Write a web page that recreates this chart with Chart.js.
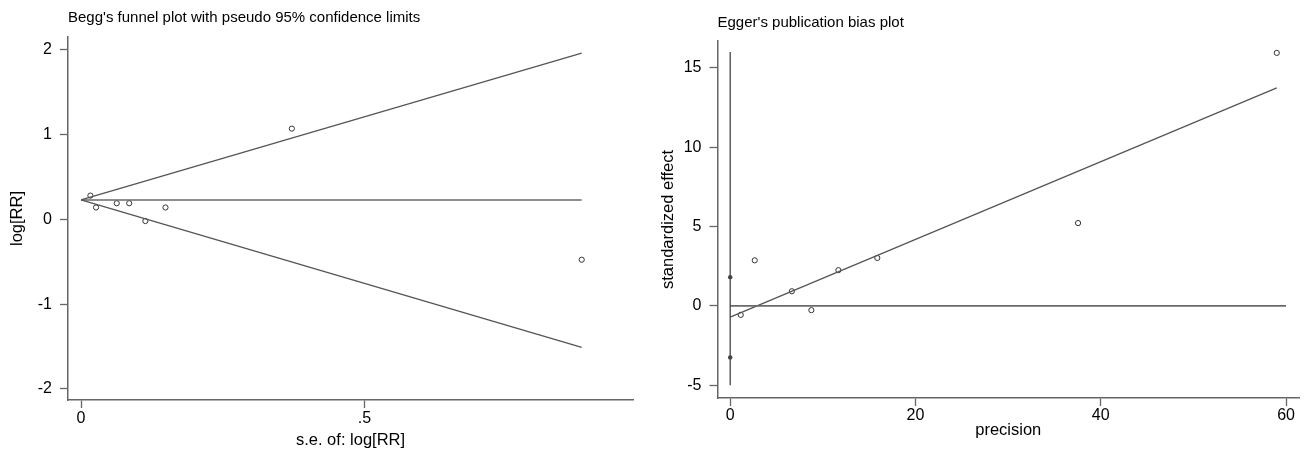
<!DOCTYPE html>
<html>
<head>
<meta charset="utf-8">
<title>Begg and Egger plots</title>
<script src="https://cdn.jsdelivr.net/npm/chart.js@4.4.0/dist/chart.umd.min.js"></script>
<style>
  html, body { margin: 0; padding: 0; background: #fff; }
  #wrap { position: relative; width: 1304px; height: 452px; }
  #beggChart { position: absolute; left: 0; top: 0; }
  #eggerChart { position: absolute; left: 640px; top: 0; }
</style>
</head>
<body>
<div id="wrap">
  <canvas id="beggChart" width="640" height="452"></canvas>
  <canvas id="eggerChart" width="664" height="452"></canvas>
</div>
<script>
// Begg's funnel plot - studies
const beggSe = [0.0165, 0.0265, 0.063, 0.085, 0.1135, 0.149, 0.372, 0.8835];
const beggLogRR = [0.28, 0.14, 0.19, 0.19, -0.02, 0.14, 1.07, -0.476];
// pooled estimate and pseudo 95% limits (start / end of each line)
const funnelSe = [0, 0.8835];
const pooledLine = [0.229, 0.229];
const upperLimit = [0.229, 1.96];
const lowerLimit = [0.229, -1.51];
const beggXTicks = [0, 0.5];
const beggYTicks = [-2, -1, 0, 1, 2];

// Egger's plot - studies
const eggerPrecision = [1.14, 2.65, 6.66, 8.76, 11.68, 15.88, 37.55, 59.0];
const eggerEffect = [-0.57, 2.87, 0.92, -0.27, 2.25, 3.02, 5.22, 15.95];
// intercept CI markers on the y line
const ciPrecision = [0, 0];
const ciBounds = [1.81, -3.25];
const yLineX = [0, 0];
const yLineY = [-5, 16];
const zeroLineX = [0, 60];
const zeroLineY = [0, 0];
const regX = [0, 59];
const regY = [-0.71, 13.74];
const eggerXTicks = [0, 20, 40, 60];
const eggerYTicks = [-5, 0, 5, 10, 15];

Chart.defaults.font.family = '"Liberation Sans", Arial, sans-serif';
Chart.defaults.color = '#111';

const LINE = '#555';
const AXIS = '#666';

const toPoints = (xs, ys) => xs.map((x, i) => ({ x: x, y: ys[i] }));

const lineSet = (xs, ys, color, width) => ({
    data: toPoints(xs, ys),
    showLine: true,
    pointRadius: 0,
    borderColor: color,
    borderWidth: width,
    fill: false
});

const circleSet = (xs, ys) => ({
    data: toPoints(xs, ys),
    showLine: false,
    pointRadius: 2.6,
    pointBorderWidth: 1,
    pointBorderColor: '#333',
    pointBackgroundColor: 'rgba(0,0,0,0)'
});

// draws the small title above the plot area, starting at the y axis
const plotTitle = {
    id: 'plotTitle',
    afterDraw(chart, args, opts) {
        const ctx = chart.ctx;
        ctx.save();
        ctx.font = '15px "Liberation Sans", Arial, sans-serif';
        ctx.fillStyle = '#000';
        ctx.textBaseline = 'middle';
        ctx.fillText(opts.text, chart.chartArea.left, opts.y);
        ctx.restore();
    }
};

const makeAxis = (cfg) => ({
    type: 'linear',
    min: cfg.min,
    max: cfg.max,
    afterBuildTicks: (scale) => { scale.ticks = cfg.ticks.map(v => ({ value: v })); },
    afterFit: (scale) => {
        if (cfg.width) scale.width = cfg.width;
        if (cfg.height) scale.height = cfg.height;
    },
    ticks: {
        font: { size: 16 },
        color: '#000',
        padding: cfg.tickPad,
        maxRotation: 0,
        autoSkip: false,
        callback: cfg.format || (v => String(v))
    },
    grid: { display: true, drawOnChartArea: false, drawTicks: true, tickLength: 8, tickWidth: 1.3, tickColor: AXIS },
    border: { display: true, color: AXIS, width: 1.5 },
    title: { display: true, text: cfg.title, font: { size: 16.5 }, color: '#000', padding: cfg.titlePad }
});

new Chart(document.getElementById('beggChart'), {
    type: 'scatter',
    data: {
        datasets: [
            lineSet(funnelSe, upperLimit, LINE, 1.3),
            lineSet(funnelSe, lowerLimit, LINE, 1.3),
            lineSet(funnelSe, pooledLine, '#6a6a6a', 1.6),
            circleSet(beggSe, beggLogRR)
        ]
    },
    options: {
        responsive: false,
        animation: false,
        layout: { padding: { top: 37, right: 7, left: 0, bottom: 0 } },
        scales: {
            x: makeAxis({ min: -0.023, max: 0.974, ticks: beggXTicks, height: 52, tickPad: 1,
                format: v => (v === 0 ? '0' : String(v).replace(/^0/, '')),
                title: 's.e. of: log[RR]', titlePad: { bottom: 2 } }),
            y: makeAxis({ min: -2.13, max: 2.15, ticks: beggYTicks, width: 68, tickPad: 8,
                title: 'log[RR]', titlePad: { top: 8 } })
        },
        plugins: {
            legend: { display: false },
            tooltip: { enabled: false },
            plotTitle: { text: "Begg's funnel plot with pseudo 95% confidence limits", y: 18 }
        }
    },
    plugins: [plotTitle]
});

new Chart(document.getElementById('eggerChart'), {
    type: 'scatter',
    data: {
        datasets: [
            lineSet(yLineX, yLineY, '#444', 1.3),
            lineSet(zeroLineX, zeroLineY, '#6a6a6a', 1.6),
            lineSet(regX, regY, LINE, 1.3),
            {
                data: toPoints(ciPrecision, ciBounds),
                showLine: false,
                pointRadius: 2.2,
                pointBorderWidth: 0,
                pointBackgroundColor: '#444'
            },
            circleSet(eggerPrecision, eggerEffect)
        ]
    },
    options: {
        responsive: false,
        animation: false,
        layout: { padding: { top: 41, right: 4, left: 0, bottom: 0 } },
        scales: {
            x: makeAxis({ min: -1.37, max: 61.4, ticks: eggerXTicks, height: 54, tickPad: 0,
                title: 'precision', titlePad: { bottom: 12 } }),
            y: makeAxis({ min: -5.81, max: 16.7, ticks: eggerYTicks, width: 77.5, tickPad: 8,
                title: 'standardized effect', titlePad: { top: 19 } })
        },
        plugins: {
            legend: { display: false },
            tooltip: { enabled: false },
            plotTitle: { text: "Egger's publication bias plot", y: 23 }
        }
    },
    plugins: [plotTitle]
});
</script>
</body>
</html>
